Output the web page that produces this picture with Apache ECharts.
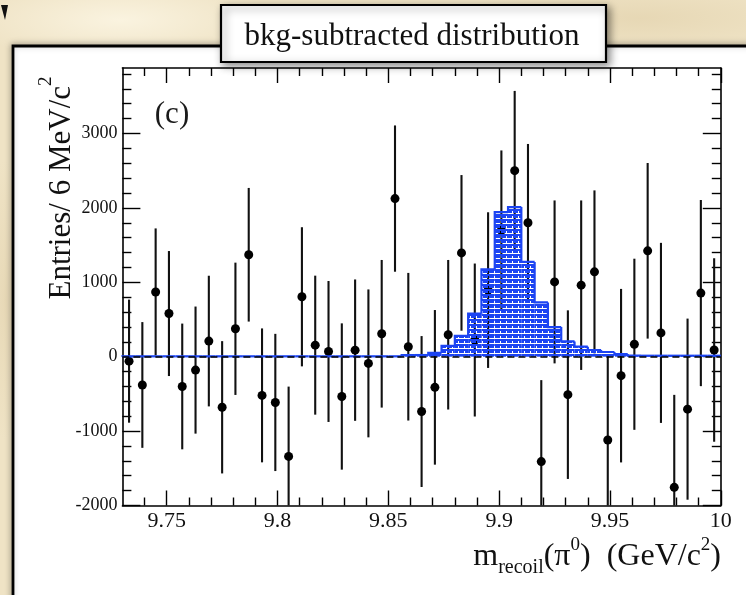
<!DOCTYPE html>
<html>
<head>
<meta charset="utf-8">
<title>bkg-subtracted distribution</title>
<script src="https://cdn.jsdelivr.net/npm/echarts@6/dist/echarts.min.js"></script>
<style>
  html, body { margin: 0; padding: 0; }
  body {
    width: 746px; height: 595px; overflow: hidden;
    background-color: #efe3c5;
    background-image:
      radial-gradient(ellipse 220px 60px at 120px 20px, rgba(255,250,235,0.7), rgba(255,250,235,0) 70%),
      radial-gradient(ellipse 260px 50px at 640px 18px, rgba(225,208,170,0.6), rgba(225,208,170,0) 70%),
      radial-gradient(ellipse 30px 200px at 5px 300px, rgba(228,212,176,0.7), rgba(228,212,176,0) 70%),
      radial-gradient(ellipse 160px 40px at 330px 30px, rgba(247,240,222,0.6), rgba(247,240,222,0) 70%);
  }
  #chart { position: absolute; left: 0; top: 0; width: 746px; height: 595px; }
</style>
</head>
<body>
<div id="chart"></div>
<script>
// Recoil-mass spectrum after background subtraction, 6 MeV bins.
const X_MIN = 9.73, X_MAX = 10.0;
const Y_MIN = -2000, Y_MAX = 3880;
const binWidth = 0.006;

const binCenters = [
  9.733, 9.739, 9.745, 9.751, 9.757, 9.763, 9.769, 9.775, 9.781, 9.787,
  9.793, 9.799, 9.805, 9.811, 9.817, 9.823, 9.829, 9.835, 9.841, 9.847,
  9.853, 9.859, 9.865, 9.871, 9.877, 9.883, 9.889, 9.895, 9.901, 9.907,
  9.913, 9.919, 9.925, 9.931, 9.937, 9.943, 9.949, 9.955, 9.961, 9.967,
  9.973, 9.979, 9.985, 9.991, 9.997
];

// background-subtracted entries per bin
const entries = [
  -60, -380, 870, 580, -400, -180, 210, -680, 375, 1370,
  -520, -615, -1340, 805, 155, 70, -535, 88, -90, 308,
  2125, 134, -737, -412, 295, 1395, 224, 895, 1700, 2500,
  1800, -1410, 1005, -510, 961, 1140, -1120, -255, 167, 1423,
  320, -1756, -705, 855, 90
];

// statistical uncertainty per bin
const entryErrors = [
  827, 845, 854, 840, 845, 854, 878, 889, 889, 898,
  900, 922, 938, 935, 934, 947, 983, 950, 994, 992,
  983, 992, 1014, 1039, 1005, 1046, 1028, 1046, 1072, 1072,
  1059, 1095, 1095, 1133, 1139, 1095, 1143, 1166, 1150, 1180,
  1210, 1243, 1217, 1251, 1233
];

// signal MC shape, same binning
const signalShape = [
  5, 5, 5, 5, 5, 5, 5, 5, 5, 5,
  5, 5, 5, 5, 5, 5, 5, 5, 5, 5,
  5, 22, 22, 50, 145, 280, 578, 1174, 1944, 2011,
  1274, 730, 398, 205, 134, 90, 63, 36, 13, 13,
  13, 13, 13, 13, 13
];

const xMajorTicks = [9.75, 9.8, 9.85, 9.9, 9.95, 10];
const yMajorTicks = [-2000, -1000, 0, 1000, 2000, 3000];
const xMinorStep = 0.01;
const yMinorStep = 200;

const BLUE = '#1c44f2';
const SERIF = '"Liberation Serif", "DejaVu Serif", "Times New Roman", serif';

function minorValues(lo, hi, step, majors) {
  const out = [];
  const start = Math.ceil(lo / step - 1e-9);
  for (let k = start; k * step <= hi + 1e-9; k++) {
    const v = +(k * step).toFixed(6);
    if (v <= lo + 1e-9 || v >= hi - 1e-9) continue;
    if (majors.some(m => Math.abs(m - v) < 1e-9)) continue;
    out.push(v);
  }
  return out;
}
const xMinorTicks = minorValues(X_MIN, X_MAX, xMinorStep, xMajorTicks);
const yMinorTicks = minorValues(Y_MIN, Y_MAX, yMinorStep, yMajorTicks);

// hatch pattern for the signal histogram
const hatch = document.createElement('canvas');
hatch.width = 6; hatch.height = 5;
(function () {
  const c = hatch.getContext('2d');
  c.fillStyle = BLUE;
  c.fillRect(0, 0, 6, 5);
  c.clearRect(0, 3, 6, 1);
  c.clearRect(2, 1, 1, 2);
})();

function xAxisDef(position, ticks, len, main) {
  return {
    type: 'value', min: X_MIN, max: X_MAX, position: position,
    axisLine: { show: main, onZero: false, lineStyle: { color: '#000', width: 1.6 } },
    axisTick: { show: true, inside: true, length: len, customValues: ticks,
                lineStyle: { color: '#000', width: 1.4 } },
    axisLabel: { show: main && position === 'bottom', customValues: xMajorTicks,
                 formatter: v => String(v),
                 margin: 5, color: '#111', fontFamily: SERIF, fontSize: 22 },
    splitLine: { show: false }
  };
}
function yAxisDef(position, ticks, len, main) {
  return {
    type: 'value', min: Y_MIN, max: Y_MAX, position: position,
    axisLine: { show: main, onZero: false, lineStyle: { color: '#000', width: 1.6 } },
    axisTick: { show: true, inside: true, length: len, customValues: ticks,
                lineStyle: { color: '#000', width: 1.4 } },
    axisLabel: { show: main && position === 'left', customValues: yMajorTicks,
                 formatter: v => String(v),
                 margin: 5, color: '#111', fontFamily: SERIF, fontSize: 18 },
    splitLine: { show: false }
  };
}

const pointData = binCenters.map((x, i) => [x, entries[i], entryErrors[i]]);
const histData = binCenters.map((x, i) => [
  x - binWidth / 2, x + binWidth / 2, signalShape[i], i > 0 ? signalShape[i - 1] : 0
]);

const chart = echarts.init(document.getElementById('chart'), null, { renderer: 'canvas' });

chart.setOption({
  backgroundColor: 'transparent',
  animation: false,
  grid: { left: 122.4, top: 68, width: 598.4, height: 437.5, containLabel: false },
  xAxis: [
    xAxisDef('bottom', xMajorTicks, 15, true),
    xAxisDef('bottom', xMinorTicks, 8, false),
    xAxisDef('top', xMajorTicks, 15, true),
    xAxisDef('top', xMinorTicks, 8, false)
  ],
  yAxis: [
    yAxisDef('left', yMajorTicks, 18, true),
    yAxisDef('left', yMinorTicks, 9, false),
    yAxisDef('right', yMajorTicks, 18, true),
    yAxisDef('right', yMinorTicks, 9, false)
  ],
  graphic: [
    { type: 'polygon', z: 0, shape: { points: [[1, 5], [8, 5], [5, 20]] },
      style: { fill: '#111' } },
    { type: 'rect', z: 0, shape: { x: 13, y: 46, width: 760, height: 600 },
      style: { fill: '#fff', stroke: '#000', lineWidth: 2.8,
               shadowBlur: 6, shadowColor: 'rgba(0,0,0,0.25)', shadowOffsetX: -1, shadowOffsetY: -1 } },
    { type: 'rect', z: 10, shape: { x: 221, y: 5, width: 385, height: 57 },
      style: { fill: '#fff', stroke: '#000', lineWidth: 2.2,
               shadowBlur: 8, shadowColor: 'rgba(0,0,0,0.45)', shadowOffsetX: 3, shadowOffsetY: 3 } },
    { type: 'text', z: 11, x: 412, y: 37,
      style: { text: 'bkg-subtracted distribution', fill: '#111', font: '31px ' + SERIF,
               align: 'center', verticalAlign: 'middle' } },
    { type: 'text', z: 11, x: 172, y: 115,
      style: { text: '(c)', fill: '#1a1a1a', font: '31px ' + SERIF,
               align: 'center', verticalAlign: 'middle' } },
    { type: 'text', z: 11, x: 57, y: 188, rotation: Math.PI / 2,
      style: {
        text: '{m|Entries/ 6 MeV/c}{s|2}',
        align: 'center', verticalAlign: 'middle', fill: '#111',
        rich: {
          m: { fontFamily: SERIF, fontSize: 31, lineHeight: 40, verticalAlign: 'bottom', fill: '#111' },
          s: { fontFamily: SERIF, fontSize: 19, lineHeight: 40, verticalAlign: 'top', fill: '#111' }
        }
      } },
    { type: 'text', z: 11, x: 721, y: 557,
      style: {
        text: '{m|m}{b|recoil}{m|(π}{p|0}{m|)  (GeV/c}{p|2}{m|)}',
        align: 'right', verticalAlign: 'middle', fill: '#111',
        rich: {
          m: { fontFamily: SERIF, fontSize: 32, lineHeight: 42, verticalAlign: 'middle', fill: '#111' },
          b: { fontFamily: SERIF, fontSize: 20, lineHeight: 42, verticalAlign: 'bottom', fill: '#111' },
          p: { fontFamily: SERIF, fontSize: 19, lineHeight: 42, verticalAlign: 'top', fill: '#111' }
        }
      } }
  ],
  series: [
    {
      name: 'data', type: 'custom', xAxisIndex: 0, yAxisIndex: 0, z: 3,
      data: pointData,
      renderItem: function (params, api) {
        const x = api.value(0), y = api.value(1), e = api.value(2);
        const lo = Math.max(y - e, Y_MIN), hi = Math.min(y + e, Y_MAX);
        const p0 = api.coord([x, lo]), p1 = api.coord([x, hi]), pc = api.coord([x, y]);
        return {
          type: 'group',
          children: [
            { type: 'line', shape: { x1: p0[0], y1: p0[1], x2: p1[0], y2: p1[1] },
              style: { stroke: '#111', lineWidth: 2.1 } },
            { type: 'circle', shape: { cx: pc[0], cy: pc[1], r: 4.5 },
              style: { fill: '#000' } }
          ]
        };
      }
    },
    {
      name: 'signal', type: 'custom', xAxisIndex: 0, yAxisIndex: 0, z: 4,
      data: histData,
      renderItem: function (params, api) {
        const x0 = api.value(0), x1 = api.value(1), v = api.value(2), prev = api.value(3);
        const a = api.coord([x0, v]), b = api.coord([x1, 0]), pp = api.coord([x0, prev]);
        return {
          type: 'group',
          children: [
            { type: 'rect', shape: { x: a[0], y: a[1], width: b[0] - a[0], height: b[1] - a[1] },
              style: { fill: { image: hatch, repeat: 'repeat' } } },
            { type: 'polyline', shape: { points: [pp, [a[0], a[1]], [b[0], a[1]]] },
              style: { stroke: BLUE, lineWidth: 2.2, fill: null } }
          ]
        };
      },
      markLine: {
        silent: true, symbol: 'none', z: 5,
        label: { show: false },
        lineStyle: { color: '#000', width: 1.5, type: [7, 4] },
        data: [{ yAxis: 0 }]
      }
    }
  ]
});
</script>
</body>
</html>
